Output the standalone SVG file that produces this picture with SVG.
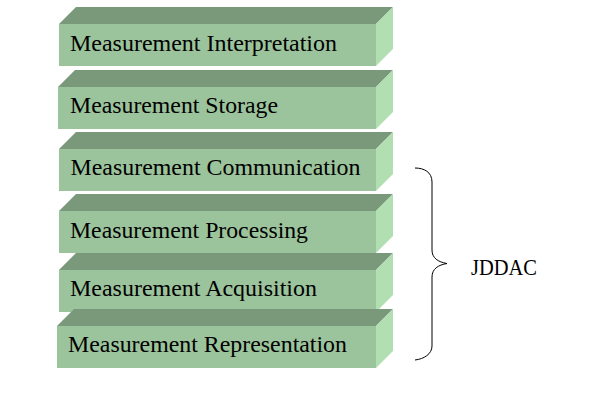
<svg xmlns="http://www.w3.org/2000/svg" width="612" height="402" viewBox="0 0 612 402">
<style>
.top{fill:#7A987A}
.front{fill:#9CC49C}
.side{fill:#B1DFB2}
.lbl{font-family:"Liberation Serif","Times New Roman",serif;font-size:23px;fill:#000}
.brace{fill:none;stroke:#000;stroke-width:1}
</style>
<rect width="612" height="402" fill="#fff"/>
<g id="layer-interpretation">
<polygon class="top" points="59,24 76,7 393,7 376,24"/>
<rect class="front" x="59" y="24" width="317" height="42"/>
<polygon class="side" points="376,24 393,7 393,49 376,66"/>
<text class="lbl" x="70" y="51" textLength="267" lengthAdjust="spacingAndGlyphs">Measurement Interpretation</text>
</g>
<g id="layer-storage">
<polygon class="top" points="58,87 75,70 393,70 376,87"/>
<rect class="front" x="58" y="87" width="318" height="42"/>
<polygon class="side" points="376,87 393,70 393,112 376,129"/>
<text class="lbl" x="70" y="113" textLength="208" lengthAdjust="spacingAndGlyphs">Measurement Storage</text>
</g>
<g id="layer-communication">
<polygon class="top" points="59,149 76,132 393,132 376,149"/>
<rect class="front" x="59" y="149" width="317" height="42"/>
<polygon class="side" points="376,149 393,132 393,174 376,191"/>
<text class="lbl" x="70.5" y="175" textLength="290" lengthAdjust="spacingAndGlyphs">Measurement Communication</text>
</g>
<g id="layer-processing">
<polygon class="top" points="59,211 76,194 393,194 376,211"/>
<rect class="front" x="59" y="211" width="317" height="42"/>
<polygon class="side" points="376,211 393,194 393,236 376,253"/>
<text class="lbl" x="70" y="237.5" textLength="238" lengthAdjust="spacingAndGlyphs">Measurement Processing</text>
</g>
<g id="layer-acquisition">
<polygon class="top" points="59,270 76,253 393,253 376,270"/>
<rect class="front" x="59" y="270" width="317" height="42"/>
<polygon class="side" points="376,270 393,253 393,295 376,312"/>
<text class="lbl" x="70" y="295.5" textLength="247" lengthAdjust="spacingAndGlyphs">Measurement Acquisition</text>
</g>
<g id="layer-representation">
<polygon class="top" points="57,326 74,309 393,309 376,326"/>
<rect class="front" x="57" y="326" width="319" height="42"/>
<polygon class="side" points="376,326 393,309 393,351 376,368"/>
<text class="lbl" x="68" y="351.5" textLength="279" lengthAdjust="spacingAndGlyphs">Measurement Representation</text>
</g>
<g id="connectors">
<path class="brace" d="M415,168 C424,168 432,172 432,182 L432,250 C432,258 438,262 447,263.5 C438,265 432,269 432,277 L432,346 C432,354 424,359 415,360"/>
</g>
<g id="jddac">
<text class="lbl" x="471" y="275" textLength="66" lengthAdjust="spacingAndGlyphs">JDDAC</text>
</g>
</svg>
